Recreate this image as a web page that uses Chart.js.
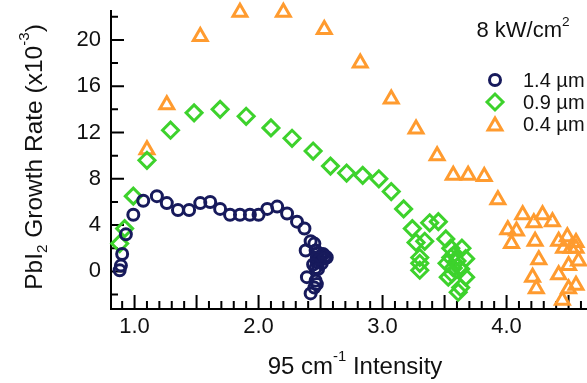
<!DOCTYPE html>
<html>
<head>
<meta charset="utf-8">
<script src="https://cdn.jsdelivr.net/npm/chart.js@4.4.1/dist/chart.umd.min.js"></script>
<style>
  html, body { margin: 0; padding: 0; background: #fff; }
  canvas { display: block; }
</style>
</head>
<body>
<canvas id="chart" width="587" height="383"></canvas>
<script>
// tick labels
const xTickLabels = [1, 2, 3, 4];
const yTickLabels = [0, 4, 8, 12, 16, 20];

// 1.4 um series
const thickX = [0.88, 0.89, 0.90, 0.93, 0.99, 1.07, 1.18, 1.26, 1.35, 1.44, 1.53, 1.61, 1.69, 1.77, 1.85,
  1.93, 2.00, 2.07, 2.15, 2.23, 2.31, 2.37, 2.42, 2.45, 2.38, 2.46, 2.47, 2.46, 2.39, 2.46, 2.42, 2.45,
  2.48, 2.50, 2.52, 2.54, 2.55, 2.49, 2.47, 2.51, 2.53, 2.44, 2.48, 2.47];
const thickY = [0.1, 0.5, 1.5, 3.2, 4.9, 6.1, 6.5, 5.9, 5.3, 5.3, 5.9, 6.0, 5.4, 4.9, 4.9,
  4.9, 4.9, 5.4, 5.6, 5.0, 4.3, 3.7, 2.6, 2.4, 1.8, 1.8, 0.8, 0.3, -0.5, -0.8, -1.9, -1.4,
  1.6, 1.3, 1.5, 1.3, 1.2, 1.0, 1.2, 0.7, 1.1, 0.6, 0.2, -1.1];

// 0.9 um series
const midX = [0.88, 0.92, 0.99, 1.10, 1.29, 1.48, 1.69, 1.90, 2.10, 2.27, 2.44, 2.58, 2.71, 2.84, 2.97,
  3.07, 3.17, 3.24, 3.38, 3.45, 3.27, 3.34, 3.30, 3.30, 3.30, 3.51, 3.55, 3.64, 3.67, 3.52, 3.57,
  3.53, 3.67, 3.61, 3.63, 3.58, 3.60, 3.55, 3.63, 3.56];
const midY = [2.4, 3.7, 6.5, 9.6, 12.2, 13.7, 14.0, 13.4, 12.4, 11.5, 10.4, 9.1, 8.5, 8.3, 8.0,
  6.9, 5.4, 3.7, 4.2, 4.3, 2.5, 2.6, 1.2, 0.7, 0.1, 2.8, 2.0, 2.0, 1.1, 0.7, 0.3,
  -0.5, -0.5, -1.8, -1.4, 1.5, 0.9, 1.2, 0.2, -0.2];

// 0.4 um series
const thinX = [1.10, 1.26, 1.53, 1.85, 2.20, 2.53, 2.82, 3.07, 3.27, 3.44, 3.57, 3.69, 3.82, 3.93, 4.13,
  4.22, 4.29, 4.37, 4.01, 4.08, 4.04, 4.23, 4.26, 4.21, 4.24, 4.42, 4.49, 4.56, 4.50, 4.42,
  4.50, 4.45, 4.46, 4.52, 4.58, 4.56, 4.56];
const thinY = [10.5, 14.4, 20.3, 22.4, 22.4, 20.9, 18.0, 14.9, 12.3, 10.0, 8.3, 8.3, 8.2, 6.2, 4.9,
  4.2, 4.9, 4.3, 3.6, 3.5, 2.4, 2.6, 1.0, -0.5, -1.5, 2.6, 3.0, 2.5, 0.5, -0.3,
  -1.5, -2.5, 2.0, 2.0, 0.9, -1.2, 2.0];

const seriesLabels = ['1.4 µm', '0.9 µm', '0.4 µm'];

const FONT = '"Liberation Sans", Arial, sans-serif';
const NAVY = '#171a5c';
const GREEN = '#3dd22c';
const ORANGE = '#ff9b2f';

const toPoints = (xs, ys) => xs.map((x, i) => ({ x, y: ys[i] }));

// draws text with sub/superscript pieces, centred on (0,0)
function drawRich(ctx, parts, size) {
  let total = 0;
  parts.forEach(p => {
    ctx.font = (p.s ? size * 0.62 : size) + 'px ' + FONT;
    p.w = ctx.measureText(p.t).width;
    total += p.w;
  });
  let cx = -total / 2;
  parts.forEach(p => {
    ctx.font = (p.s ? size * 0.62 : size) + 'px ' + FONT;
    const dy = p.s === 'sup' ? -size * 0.42 : p.s === 'sub' ? size * 0.3 : 0;
    ctx.fillText(p.t, cx, dy);
    cx += p.w;
  });
}

function drawMarker(ctx, style, radius, x, y) {
  Chart.helpers.drawPoint(ctx, {
    pointStyle: style, radius, borderWidth: 3, rotation: 0
  }, x, y);
}

// inward ticks, titles and the legend box
const decorations = {
  id: 'decorations',
  beforeDatasetsDraw(chart) {
    const { ctx, chartArea: a, scales: { x, y } } = chart;
    ctx.save();
    ctx.strokeStyle = '#000';
    ctx.lineWidth = 2;
    ctx.beginPath();
    for (let i = 9; i <= 46; i++) {
      const px = x.getPixelForValue(i / 10);
      const len = i % 5 === 0 ? 14 : 8;
      ctx.moveTo(px, a.bottom);
      ctx.lineTo(px, a.bottom - len);
    }
    for (let v = -2; v <= 22; v += 2) {
      const py = y.getPixelForValue(v);
      const len = v % 4 === 0 ? 13 : 7;
      ctx.moveTo(a.left, py);
      ctx.lineTo(a.left + len, py);
    }
    ctx.stroke();
    // axis line runs to the canvas edge like the original
    ctx.beginPath();
    ctx.moveTo(a.left - 1, a.bottom);
    ctx.lineTo(chart.width, a.bottom);
    ctx.stroke();
    ctx.restore();
  },
  afterDraw(chart) {
    const { ctx, chartArea: a } = chart;
    ctx.save();
    ctx.fillStyle = '#111';
    ctx.textBaseline = 'middle';
    ctx.textAlign = 'left';

    // x title
    ctx.save();
    ctx.translate(355, 367);
    drawRich(ctx, [{ t: '95 cm' }, { t: '-1', s: 'sup' }, { t: ' Intensity' }], 24);
    ctx.restore();

    // y title
    ctx.save();
    ctx.translate(35, 157);
    ctx.rotate(-Math.PI / 2);
    drawRich(ctx, [{ t: 'PbI' }, { t: '2', s: 'sub' }, { t: ' Growth Rate (x10' }, { t: '-3', s: 'sup' }, { t: ')' }], 24.5);
    ctx.restore();

    // power note
    ctx.save();
    ctx.translate(523, 31);
    drawRich(ctx, [{ t: '8 kW/cm' }, { t: '2', s: 'sup' }], 22);
    ctx.restore();

    // legend
    const entries = [
      { style: 'circle', color: NAVY, r: 5.5 },
      { style: 'rectRot', color: GREEN, r: 8 },
      { style: 'triangle', color: ORANGE, r: 8 }
    ];
    const rows = [80, 102, 124];
    entries.forEach((e, i) => {
      ctx.strokeStyle = e.color;
      ctx.fillStyle = 'rgba(0,0,0,0)';
      ctx.lineWidth = 3;
      drawMarker(ctx, e.style, e.r, 495, rows[i] + (e.style === 'triangle' ? 2 : 0));
      ctx.fillStyle = '#111';
      ctx.font = '20px ' + FONT;
      ctx.fillText(seriesLabels[i], 523, rows[i] + 1);
    });
    ctx.restore();
  }
};

new Chart(document.getElementById('chart'), {
  type: 'scatter',
  data: {
    datasets: [
      {
        label: seriesLabels[0],
        data: toPoints(thickX, thickY),
        pointStyle: 'circle',
        pointRadius: 5.5,
        borderColor: NAVY,
        backgroundColor: 'rgba(0,0,0,0)',
        borderWidth: 3,
        clip: false
      },
      {
        label: seriesLabels[1],
        data: toPoints(midX, midY),
        pointStyle: 'rectRot',
        pointRadius: 8,
        borderColor: GREEN,
        backgroundColor: 'rgba(0,0,0,0)',
        borderWidth: 3,
        clip: false
      },
      {
        label: seriesLabels[2],
        data: toPoints(thinX, thinY),
        pointStyle: 'triangle',
        pointRadius: 8,
        borderColor: ORANGE,
        backgroundColor: 'rgba(0,0,0,0)',
        borderWidth: 3,
        clip: false
      }
    ]
  },
  options: {
    responsive: false,
    animation: false,
    devicePixelRatio: 1,
    layout: { padding: { top: 7, right: 0, left: 0, bottom: 0 } },
    plugins: {
      legend: { display: false },
      tooltip: { enabled: false }
    },
    scales: {
      x: {
        type: 'linear',
        min: 0.81,
        max: 4.56,
        grid: { display: false, drawTicks: false },
        border: { display: true, color: '#000', width: 2 },
        afterBuildTicks: s => { s.ticks = xTickLabels.map(v => ({ value: v })); },
        afterFit: s => { s.height = 74; s.paddingLeft = 0; s.paddingRight = 0; },
        ticks: {
          padding: 5,
          color: '#111',
          font: { family: FONT, size: 22 },
          callback: v => v.toFixed(1)
        }
      },
      y: {
        type: 'linear',
        min: -3.25,
        max: 22.5,
        grid: { display: false, drawTicks: false },
        border: { display: true, color: '#000', width: 2 },
        afterBuildTicks: s => { s.ticks = yTickLabels.map(v => ({ value: v })); },
        afterFit: s => { s.width = 111; s.paddingTop = 0; s.paddingBottom = 0; },
        ticks: {
          padding: 10,
          color: '#111',
          font: { family: FONT, size: 22 }
        }
      }
    }
  },
  plugins: [decorations]
});
</script>
</body>
</html>
